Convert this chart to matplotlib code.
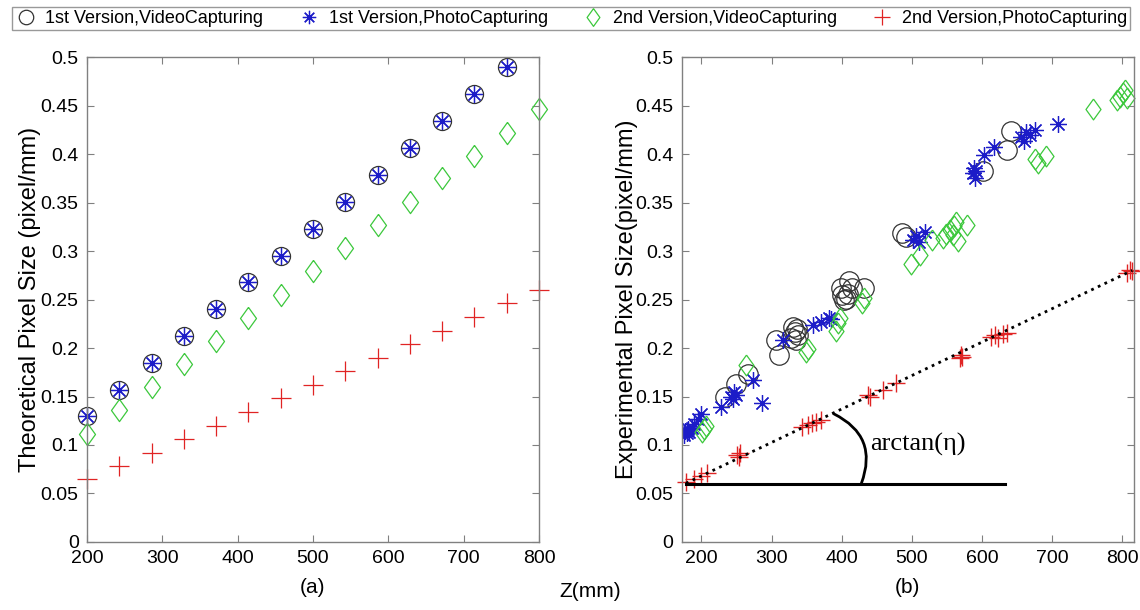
import matplotlib
matplotlib.use("Agg")
import matplotlib.pyplot as plt

plt.rcParams['font.family'] = ['Liberation Sans', 'DejaVu Sans']

# === Theoretical pixel size (a) ===
z_theory = [200, 243, 286, 329, 371, 414, 457, 500, 543, 586, 629, 671, 714, 757, 800]
v1_video_theory = [0.130, 0.157, 0.185, 0.212, 0.240, 0.268, 0.295, 0.323, 0.351, 0.378,
                   0.406, 0.434, 0.462, 0.490]
v1_photo_theory = [0.130, 0.157, 0.185, 0.212, 0.240, 0.268, 0.295, 0.323, 0.351, 0.378,
                   0.406, 0.434, 0.462, 0.490]
v2_video_theory = [0.111, 0.136, 0.160, 0.183, 0.207, 0.231, 0.255, 0.279, 0.303, 0.327,
                   0.351, 0.375, 0.398, 0.422, 0.446]
v2_photo_theory = [0.065, 0.078, 0.092, 0.106, 0.120, 0.134, 0.148, 0.162, 0.176, 0.190,
                   0.204, 0.218, 0.232, 0.246, 0.260]

# === Experimental pixel size (b) ===
v1_video_z = [234, 250, 266, 306, 311, 328, 330, 333, 335, 336, 338,
              399, 401, 403, 406, 409, 411, 414, 432, 486, 492, 601, 636, 641]
v1_video_y = [0.150, 0.163, 0.173, 0.208, 0.193, 0.210, 0.222, 0.216, 0.208, 0.220, 0.213,
              0.262, 0.255, 0.250, 0.251, 0.256, 0.269, 0.262, 0.262, 0.319, 0.314, 0.383, 0.404, 0.424]

v1_photo_z = [175, 177, 179, 181, 183, 186, 190, 195, 200, 228, 242, 245, 247, 250, 273, 287,
              316, 359, 370, 382, 385, 501, 506, 510, 518, 587, 589, 590, 591, 603, 617,
              656, 660, 663, 668, 675, 708]
v1_photo_y = [0.110, 0.114, 0.112, 0.116, 0.113, 0.118, 0.122, 0.127, 0.132, 0.139, 0.150, 0.147,
              0.155, 0.152, 0.167, 0.143, 0.208, 0.224, 0.227, 0.231, 0.230, 0.311, 0.315, 0.309,
              0.320, 0.380, 0.386, 0.375, 0.383, 0.399, 0.407, 0.418, 0.413, 0.423, 0.420, 0.425, 0.431]

v2_video_z = [201, 204, 207, 264, 349, 352, 392, 395, 398, 429, 431, 499, 511, 529, 544, 549,
              554, 558, 560, 563, 566, 578, 675, 680, 691, 758, 792, 797, 801, 804, 806]
v2_video_y = [0.113, 0.116, 0.120, 0.182, 0.196, 0.199, 0.218, 0.226, 0.231, 0.246, 0.252, 0.287,
              0.296, 0.311, 0.313, 0.318, 0.322, 0.316, 0.326, 0.330, 0.310, 0.327, 0.395, 0.391,
              0.398, 0.446, 0.456, 0.459, 0.463, 0.466, 0.458]

v2_photo_z = [178, 190, 200, 208, 251, 253, 255, 344, 352, 358, 364, 370, 437, 440, 459, 478,
              568, 570, 572, 613, 618, 623, 630, 636, 807, 811, 814]
v2_photo_y = [0.062, 0.065, 0.068, 0.071, 0.090, 0.088, 0.092, 0.119, 0.121, 0.123, 0.124, 0.126,
              0.152, 0.150, 0.157, 0.164, 0.190, 0.193, 0.191, 0.211, 0.213, 0.210, 0.214, 0.215,
              0.277, 0.280, 0.279]

# fit line and angle reference
fit_z = [178, 814]
fit_y = [0.0605, 0.280]
base_z = [178, 632]
base_y = [0.0595, 0.0595]
arc_from = (389, 0.132)
arc_to = (428, 0.0605)
eta_pos = (441, 0.101)

labels = ["1st Version,VideoCapturing", "1st Version,PhotoCapturing",
          "2nd Version,VideoCapturing", "2nd Version,PhotoCapturing"]
x_ticks = [200, 300, 400, 500, 600, 700, 800]
y_ticks = [0, 0.05, 0.1, 0.15, 0.2, 0.25, 0.3, 0.35, 0.4, 0.45, 0.5]
y_ticklabels = ["0", "0.05", "0.1", "0.15", "0.2", "0.25", "0.3", "0.35", "0.4", "0.45", "0.5"]

BLACK = '#333333'
BLUE = '#1c1cc8'
GREEN = '#3cc83c'
RED = '#e02424'
DIAMOND = [(0, 1), (0.72, 0), (0, -1), (-0.72, 0), (0, 1)]
STAR = (8, 2, 0)

fig = plt.figure(figsize=(11.4, 6.1), dpi=100)
axA = fig.add_axes([0.0763, 0.1115, 0.3965, 0.795])
axB = fig.add_axes([0.598, 0.1115, 0.3965, 0.795])


def style(ax, xlim):
    ax.set_xlim(*xlim)
    ax.set_ylim(0, 0.5)
    ax.set_xticks(x_ticks)
    ax.set_yticks(y_ticks)
    ax.set_yticklabels(y_ticklabels)
    ax.tick_params(direction='in', top=True, right=True, length=5, width=0.8,
                   color='#808080', labelsize=14, pad=6)
    for s in ax.spines.values():
        s.set_color('#808080')
        s.set_linewidth(1.0)


# --- (a) ---
h1, = axA.plot(z_theory[:14], v1_video_theory, ls='none', marker='o', ms=13, mfc='none',
               mec=BLACK, mew=0.9, clip_on=False)
h2, = axA.plot(z_theory[:14], v1_photo_theory, ls='none', marker=STAR, ms=12, mec=BLUE, mew=0.9,
               clip_on=False)
h3, = axA.plot(z_theory, v2_video_theory, ls='none', marker=DIAMOND, ms=16, mfc='none',
               mec=GREEN, mew=0.9, clip_on=False)
h4, = axA.plot(z_theory, v2_photo_theory, ls='none', marker='+', ms=14, mec=RED, mew=0.9,
               clip_on=False)
style(axA, (200, 800))
axA.set_ylabel("Theoretical Pixel Size (pixel/mm)", fontsize=17, labelpad=0)
axA.set_xlabel("(a)", fontsize=15, labelpad=8)

# --- (b) ---
axB.plot(v1_video_z, v1_video_y, ls='none', marker='o', ms=14, mfc='none', mec=BLACK, mew=0.9)
axB.plot(v1_photo_z, v1_photo_y, ls='none', marker=STAR, ms=12, mec=BLUE, mew=0.9)
axB.plot(v2_video_z, v2_video_y, ls='none', marker=DIAMOND, ms=15, mfc='none', mec=GREEN, mew=0.9,
         clip_on=False)
axB.plot(v2_photo_z, v2_photo_y, ls='none', marker='+', ms=13, mec=RED, mew=1.0, clip_on=False)
axB.plot(fit_z, fit_y, color='black', ls=':', lw=2)
axB.plot(base_z, base_y, color='black', lw=2.2)
axB.annotate("", xy=arc_to, xytext=arc_from,
             arrowprops=dict(arrowstyle='-', color='black', lw=2,
                             connectionstyle='arc3,rad=-0.45', shrinkA=0, shrinkB=0))
axB.text(eta_pos[0], eta_pos[1], "arctan(η)", fontsize=19, va='center', ha='left',
         family=['Liberation Serif', 'DejaVu Serif'])
style(axB, (172, 816))
axB.set_ylabel("Experimental Pixel Size(pixel/mm)", fontsize=17, labelpad=-2)
axB.set_xlabel("(b)", fontsize=15, labelpad=8)

fig.text(0.518, 0.03, "Z(mm)", fontsize=15, ha='center', va='center')

leg = fig.legend([h1, h2, h3, h4], labels, ncol=4, loc='lower left',
                 bbox_to_anchor=(0.0105, 0.951, 0.981, 0.044), mode='expand',
                 borderaxespad=0, fontsize=13, frameon=True, fancybox=False,
                 edgecolor='#808080', markerscale=0.8, handletextpad=0.5,
                 borderpad=0.15, handlelength=1.2)
leg.get_frame().set_linewidth(1.0)

fig.savefig("out.png", dpi=100)
